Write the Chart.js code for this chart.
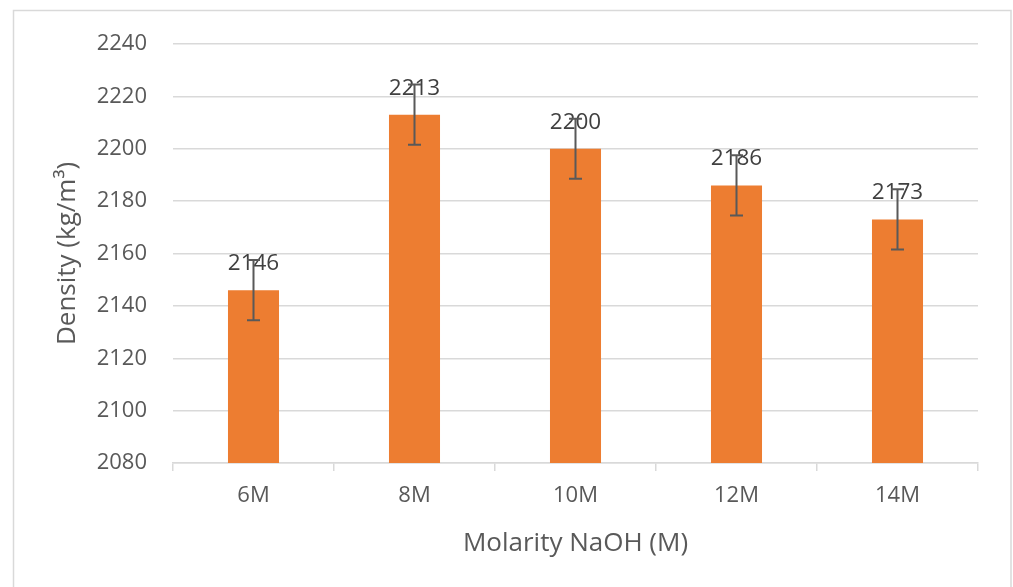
<!DOCTYPE html>
<html>
<head>
<meta charset="utf-8">
<script src="https://cdn.jsdelivr.net/npm/chart.js@4/dist/chart.umd.min.js"></script>
<style>
  html, body { margin: 0; padding: 0; background: #fff; }
  #wrap { position: relative; width: 1013px; height: 587px; }
</style>
</head>
<body>
<div id="wrap"><canvas id="densityChart" width="1013" height="587"></canvas></div>
<script>
var categories = ['6M', '8M', '10M', '12M', '14M'];
var densities = [2146, 2213, 2200, 2186, 2173];
var errors = [11.5, 11.5, 11.5, 11.5, 11.5];
var yTicks = [2080, 2100, 2120, 2140, 2160, 2180, 2200, 2220, 2240];

var FONT = '"Open Sans", Lato, sans-serif';

// frame, value labels and error bars
var extras = {
  id: 'extras',
  beforeDraw: function(chart) {
    var ctx = chart.ctx;
    ctx.save();
    ctx.fillStyle = '#fff';
    ctx.fillRect(0, 0, chart.width, chart.height);
    ctx.strokeStyle = '#D9D9D9';
    ctx.lineWidth = 1.5;
    ctx.strokeRect(13.5, 10.5, 997.5, 600);
    ctx.restore();
  },
  afterDatasetsDraw: function(chart) {
    var ctx = chart.ctx;
    var y = chart.scales.y;
    var meta = chart.getDatasetMeta(0);
    ctx.save();
    meta.data.forEach(function(bar, i) {
      ctx.fillStyle = '#404040';
      ctx.font = '22.5px ' + FONT;
      ctx.textAlign = 'center';
      ctx.textBaseline = 'alphabetic';
      ctx.fillText(String(densities[i]), bar.x, bar.y - 20);
    });
    meta.data.forEach(function(bar, i) {
      var top = y.getPixelForValue(densities[i] + errors[i]);
      var bot = y.getPixelForValue(densities[i] - errors[i]);
      ctx.strokeStyle = '#595959';
      ctx.lineWidth = 2;
      ctx.beginPath();
      ctx.moveTo(bar.x, top); ctx.lineTo(bar.x, bot);
      ctx.moveTo(bar.x - 6.5, top); ctx.lineTo(bar.x + 6.5, top);
      ctx.moveTo(bar.x - 6.5, bot); ctx.lineTo(bar.x + 6.5, bot);
      ctx.stroke();
    });
    ctx.restore();
  }
};

new Chart(document.getElementById('densityChart'), {
  type: 'bar',
  data: {
    labels: categories,
    datasets: [{
      data: densities,
      backgroundColor: '#ED7D31',
      borderWidth: 0,
      categoryPercentage: 1,
      barPercentage: 0.317
    }]
  },
  options: {
    responsive: false,
    animation: false,
    devicePixelRatio: 1,
    layout: { padding: { left: 0, right: 35, top: 44, bottom: 0 } },
    plugins: { legend: { display: false }, tooltip: { enabled: false } },
    scales: {
      x: {
        grid: { display: true, drawOnChartArea: false, drawTicks: true, tickLength: 8, color: '#D9D9D9', lineWidth: 1.5, offset: true },
        border: { display: true, color: '#D9D9D9', width: 1.5 },
        ticks: { color: '#595959', font: { family: FONT, size: 22 }, padding: 12 },
        title: { display: true, text: 'Molarity NaOH (M)', color: '#595959', font: { family: FONT, size: 26 }, padding: { top: 0, bottom: 28 } },
        afterFit: function(s) { s.height = 124; }
      },
      y: {
        min: 2080,
        max: 2240,
        afterBuildTicks: function(s) { s.ticks = yTicks.map(function(v) { return { value: v }; }); },
        grid: { color: '#D9D9D9', lineWidth: 1.5, drawTicks: false },
        border: { display: false },
        ticks: { color: '#595959', font: { family: FONT, size: 22 }, padding: 26, callback: function(v) { return String(v); } },
        title: { display: true, text: 'Density (kg/m³)', color: '#595959', font: { family: FONT, size: 26 }, padding: { top: 52, bottom: 0 } },
        afterFit: function(s) { s.width = 173; }
      }
    }
  },
  plugins: [extras]
});
</script>
</body>
</html>
